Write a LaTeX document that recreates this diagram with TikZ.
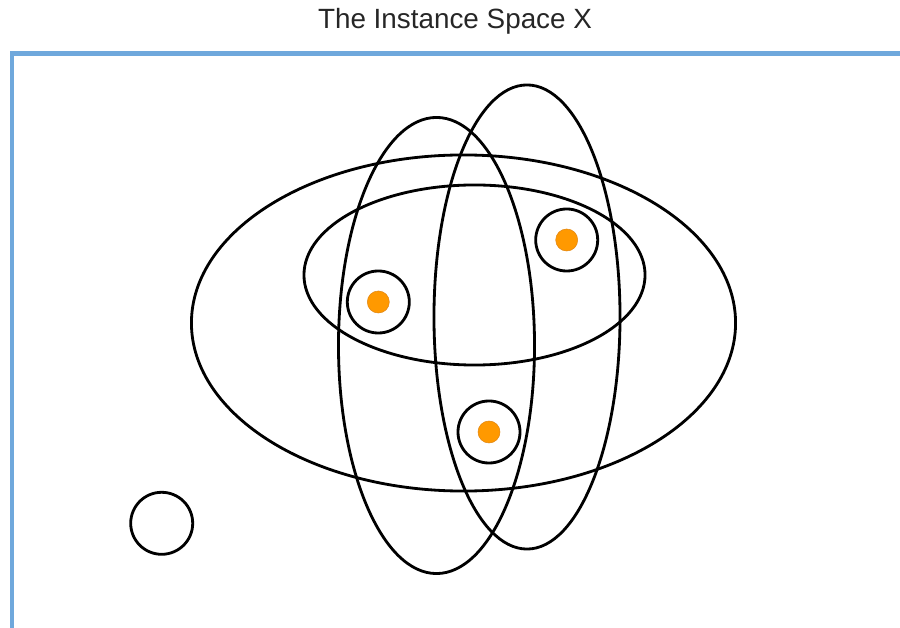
\documentclass[tikz,border=0pt]{standalone}
\usepackage{fontspec}
\setmainfont{Liberation Sans}
\usetikzlibrary{shapes.geometric}
\definecolor{spaceblue}{RGB}{111,168,220}
\definecolor{ptorange}{RGB}{255,153,0}
\definecolor{ptedge}{RGB}{225,135,20}

\begin{document}
\begin{tikzpicture}[x=0.025cm, y=-0.025cm,
  hyp/.style={draw=black, line width=2pt, ellipse, inner sep=0pt},
  ring/.style={draw=black, line width=2pt, circle, inner sep=0pt, minimum size=1.55cm},
  inst/.style={draw=ptedge, line width=0.4pt, fill=ptorange, circle, inner sep=0pt, minimum size=0.55cm}]
\useasboundingbox (0,0) rectangle (900,628);

\node[font=\fontsize{19.8}{24}\selectfont, text=black!85] (title) at (455,21) {The Instance Space X};

% frame of the instance space
\draw[spaceblue, line width=3.5pt] (12,640) -- (12,53.5) -- (910,53.5);

% hypotheses
\node[hyp, minimum width=13.6cm, minimum height=8.4cm] (big) at (463.5,323) {};
\node[hyp, minimum width=8.525cm, minimum height=4.5cm] (inner) at (474.5,275) {};
\node[hyp, minimum width=4.9cm, minimum height=11.4cm] (left) at (436.5,345.5) {};
\node[hyp, minimum width=4.65cm, minimum height=11.6cm] (right) at (527,317) {};

% instances
\node[ring] (ca) at (378.3,302) {};
\node[inst] (xa) at (ca) {};
\node[ring] (cb) at (566.7,240) {};
\node[inst] (xb) at (cb) {};
\node[ring] (cc) at (489,432) {};
\node[inst] (xc) at (cc) {};
\node[ring] (lone) at (161.7,523.3) {};
\end{tikzpicture}
\end{document}
